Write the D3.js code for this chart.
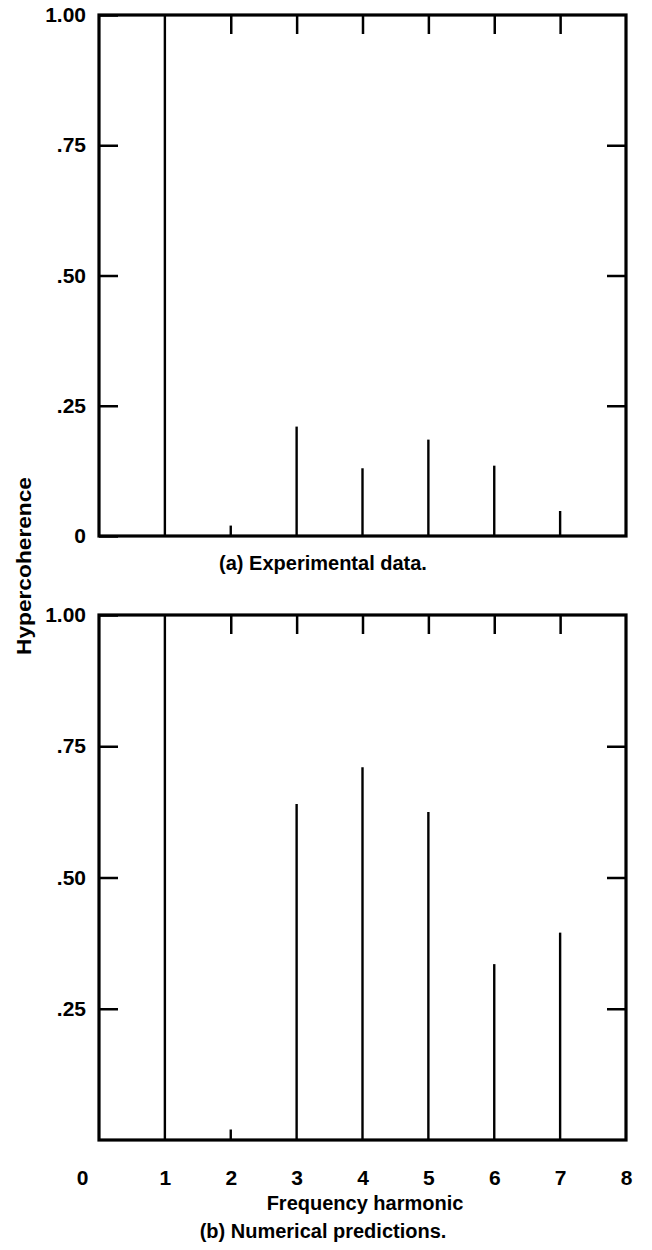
<!DOCTYPE html>
<html>
<head>
<meta charset="utf-8">
<script src="https://cdn.jsdelivr.net/npm/d3@7"></script>
<style>
  body { margin: 0; background: #fff; }
  svg text { font-family: 'Liberation Sans', Arial, sans-serif; font-weight: bold; fill: #000; }
</style>
</head>
<body>
<div id="chart"></div>
<script>
// Data
const harmonics = [1, 2, 3, 4, 5, 6, 7];
const experimental = [1.0, 0.02, 0.21, 0.13, 0.185, 0.135, 0.048];
const numerical = [1.0, 0.02, 0.64, 0.71, 0.625, 0.335, 0.395];
const yTicksTop = [0, 0.25, 0.5, 0.75, 1];
const yTicksBottom = [0.25, 0.5, 0.75, 1];
const innerTicks = [0.25, 0.5, 0.75];
const topTicks = [2, 3, 4, 5, 6, 7];
const xTicks = [0, 1, 2, 3, 4, 5, 6, 7, 8];

const width = 652;
const height = 1250;
const tickLen = 19;
const captionX = 323;

const svg = d3
  .select('#chart')
  .append('svg')
  .attr('width', width)
  .attr('height', height)
  .attr('viewBox', [0, 0, width, height]);

const x = d3.scaleLinear().domain([0, 8]).range([99, 626]);

const yFmt = (d) => {
  if (d === 1) return '1.00';
  if (d === 0) return '0';
  return d3.format('.2f')(d).slice(1);
};

// draw one panel
function drawPanel(values, yRange, yTicks, caption, captionY) {
  const y = d3.scaleLinear().domain([0, 1]).range(yRange);
  const g = svg.append('g');

  // left axis, ticks pointing inward
  const left = g
    .append('g')
    .attr('transform', `translate(${x(0)},0)`)
    .call(d3.axisLeft(y).tickValues(yTicks).tickSize(-tickLen).tickPadding(13).tickFormat(yFmt));
  left.select('.domain').remove();
  left.selectAll('.tick line').attr('stroke-width', 2.5);
  left.selectAll('.tick text').style('font-size', '21px');

  // right axis
  const right = g
    .append('g')
    .attr('transform', `translate(${x(8)},0)`)
    .call(d3.axisRight(y).tickValues(innerTicks).tickSize(-tickLen).tickFormat(''));
  right.select('.domain').remove();
  right.selectAll('.tick line').attr('stroke-width', 2.5);

  // top axis
  const top = g
    .append('g')
    .attr('transform', `translate(0,${y(1)})`)
    .call(d3.axisTop(x).tickValues(topTicks).tickSize(-tickLen).tickFormat(''));
  top.select('.domain').remove();
  top.selectAll('.tick line').attr('stroke-width', 2.5);

  // frame
  g.append('rect')
    .attr('x', x(0))
    .attr('y', y(1))
    .attr('width', x(8) - x(0))
    .attr('height', y(0) - y(1))
    .attr('fill', 'none')
    .attr('stroke', '#000')
    .attr('stroke-width', 3.2);

  // spectral lines
  g.selectAll('.bar')
    .data(harmonics.map((h, i) => [h, values[i]]))
    .join('line')
    .attr('class', 'bar')
    .attr('x1', (d) => x(d[0]))
    .attr('x2', (d) => x(d[0]))
    .attr('y1', y(0))
    .attr('y2', (d) => y(d[1]))
    .attr('stroke', '#000')
    .attr('stroke-width', 2.4);

  g.append('text')
    .attr('x', captionX)
    .attr('y', captionY)
    .attr('text-anchor', 'middle')
    .style('font-size', '20px')
    .text(caption);

  return y;
}

drawPanel(experimental, [536, 15], yTicksTop, '(a) Experimental data.', 570);
const yB = drawPanel(numerical, [1140, 615], yTicksBottom, '(b) Numerical predictions.', 1238);

// x labels under panel (b)
const bottom = svg
  .append('g')
  .attr('transform', `translate(0,${yB(0)})`)
  .call(d3.axisBottom(x).tickValues(xTicks).tickSize(0).tickPadding(30).tickFormat(d3.format('d')));
bottom.select('.domain').remove();
bottom.selectAll('.tick text').style('font-size', '21px');
bottom
  .selectAll('.tick')
  .filter((d) => d === 0)
  .select('text')
  .attr('dx', -17);

svg
  .append('text')
  .attr('x', 365)
  .attr('y', 1210)
  .attr('text-anchor', 'middle')
  .style('font-size', '20px')
  .text('Frequency harmonic');

// shared y title
svg
  .append('text')
  .attr('transform', 'translate(31,566) rotate(-90)')
  .attr('text-anchor', 'middle')
  .attr('textLength', 178)
  .attr('lengthAdjust', 'spacingAndGlyphs')
  .style('font-size', '20px')
  .text('Hypercoherence');
</script>
</body>
</html>
